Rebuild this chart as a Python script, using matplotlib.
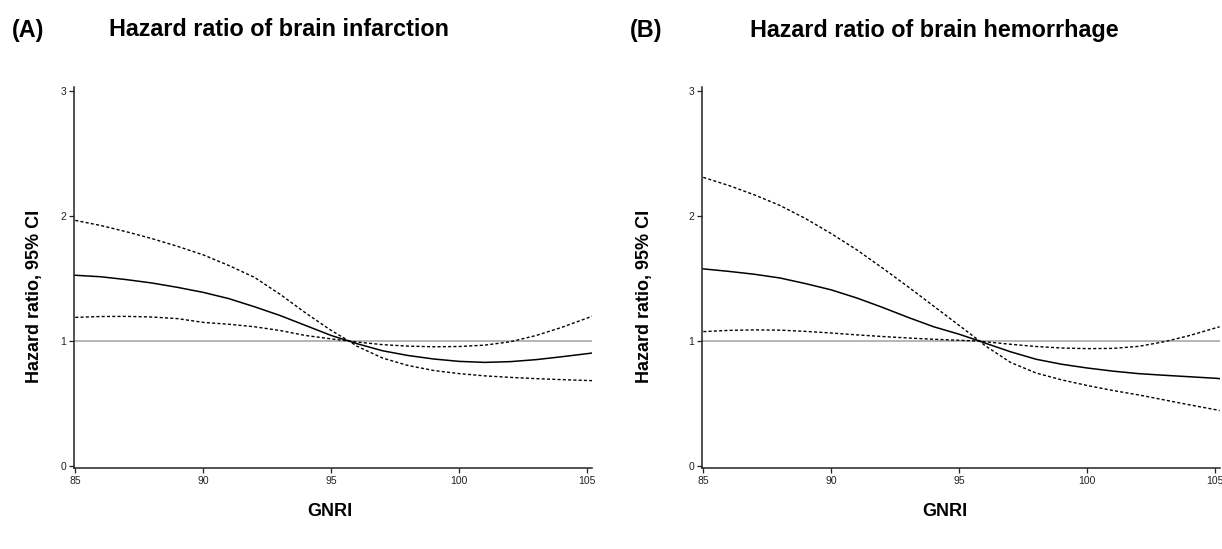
import numpy as np
import matplotlib
matplotlib.use("Agg")
from matplotlib import pyplot as plt

plt.rcParams["font.family"] = ["Liberation Sans", "DejaVu Sans"]

gnri_a = [85, 86, 87, 88, 89, 90, 91, 92, 93, 94, 95, 95.7, 96, 97, 98, 99, 100, 101, 102, 103, 104, 105, 105.2]
hr_a = [1.527, 1.515, 1.492, 1.465, 1.43, 1.39, 1.34, 1.275, 1.205, 1.125, 1.045, 1.0, 0.98, 0.923, 0.885,
        0.857, 0.838, 0.83, 0.836, 0.852, 0.875, 0.90, 0.905]
ci_steep_a = [1.966, 1.925, 1.875, 1.82, 1.758, 1.69, 1.605, 1.51, 1.375, 1.225, 1.085, 1.0, 0.96, 0.865, 0.805,
              0.765, 0.74, 0.722, 0.71, 0.70, 0.692, 0.685, 0.684]
ci_flat_a = [1.19, 1.197, 1.198, 1.193, 1.18, 1.15, 1.135, 1.115, 1.085, 1.045, 1.018, 1.0, 0.993, 0.972, 0.96,
             0.955, 0.957, 0.968, 0.995, 1.045, 1.11, 1.185, 1.20]

gnri_b = [85, 86, 87, 88, 89, 90, 91, 92, 93, 94, 95, 95.8, 96, 97, 98, 99, 100, 101, 102, 103, 104, 105, 105.17]
hr_b = [1.578, 1.558, 1.535, 1.505, 1.46, 1.41, 1.345, 1.27, 1.19, 1.115, 1.055, 1.0, 0.985, 0.915, 0.855,
        0.815, 0.785, 0.76, 0.74, 0.727, 0.715, 0.703, 0.70]
ci_steep_b = [2.31, 2.245, 2.17, 2.085, 1.98, 1.86, 1.73, 1.585, 1.435, 1.28, 1.125, 1.0, 0.965, 0.83, 0.745,
              0.69, 0.645, 0.605, 0.57, 0.53, 0.49, 0.452, 0.445]
ci_flat_b = [1.076, 1.086, 1.09, 1.088, 1.078, 1.065, 1.05, 1.037, 1.025, 1.015, 1.007, 1.0, 0.995, 0.975, 0.957,
             0.945, 0.94, 0.942, 0.958, 0.995, 1.045, 1.105, 1.115]

x_ticks = [85, 90, 95, 100, 105]
y_ticks = [0, 1, 2, 3]

W, H = 1222, 549
fig = plt.figure(figsize=(W / 100, H / 100), dpi=100)

panels = [
    (74, gnri_a, hr_a, ci_steep_a, ci_flat_a, "(A)", 12, "Hazard ratio of brain infarction", 109, 35, 330),
    (702, gnri_b, hr_b, ci_steep_b, ci_flat_b, "(B)", 630, "Hazard ratio of brain hemorrhage", 750, 645, 945),
]

for left, gx, hr, ci1, ci2, tag, tag_x, title, title_x, ylab_x, xlab_x in panels:
    ax = fig.add_axes([left / W, 81 / H, 20.25 * 25.6 / W, 380.6 / H])
    ax.set_xlim(84.95, 105.2)
    ax.set_ylim(-0.015, 3.03)

    # reference line at HR = 1
    ax.axhline(1, color="#b0b0b0", lw=1.3, zorder=1)

    ax.plot(gx, hr, color="black", lw=1.1, zorder=3)
    ax.plot(gx, ci1, color="black", lw=1.0, linestyle=(0, (2.2, 1.6)), zorder=2)
    ax.plot(gx, ci2, color="black", lw=1.0, linestyle=(0, (2.2, 1.6)), zorder=2)

    ax.spines[["right", "top"]].set_visible(False)
    for s in ["left", "bottom"]:
        ax.spines[s].set_linewidth(1.1)
        ax.spines[s].set_color("#222222")

    ax.set_xticks(x_ticks)
    ax.set_yticks(y_ticks)
    ax.tick_params(axis="both", labelsize=7.5, length=3.5, width=0.9, pad=2, colors="#222222")

    # panel tag and title
    fig.text(tag_x / W, 1 - 30 / H, tag, fontsize=16.8, fontweight="bold", ha="left", va="center")
    fig.text(title_x / W, 1 - 30 / H, title, fontsize=16.8, fontweight="bold", ha="left", va="center")

    # axis labels
    fig.text(ylab_x / W, 1 - 296 / H, "Hazard ratio, 95% CI", fontsize=13, fontweight="bold",
             rotation=90, ha="center", va="center")
    fig.text(xlab_x / W, 1 - 512 / H, "GNRI", fontsize=13, fontweight="bold", ha="center", va="center")

plt.savefig("out.png", dpi=100)
